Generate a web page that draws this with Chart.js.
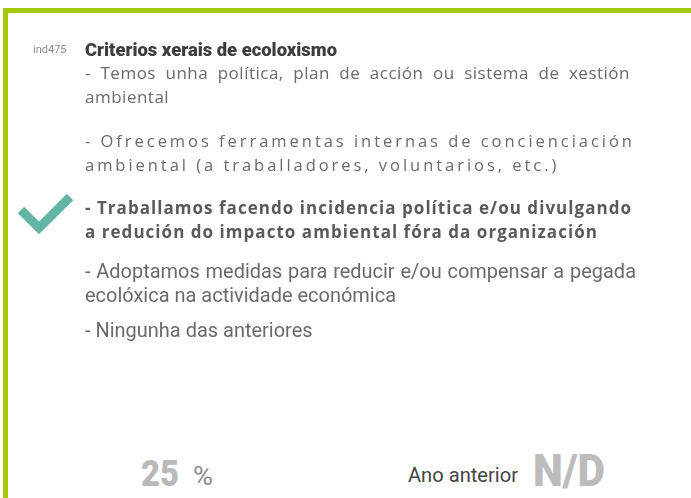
<!DOCTYPE html>
<html>
<head>
<meta charset="utf-8">
<script src="https://cdn.jsdelivr.net/npm/chart.js@4.4.1/dist/chart.umd.min.js"></script>
<style>
  html, body { margin:0; padding:0; background:#fff; }
  body { width:691px; height:498px; overflow:hidden; position:relative; font-family: "Open Sans", "Noto Sans", sans-serif; }
  #card { position:absolute; left:3px; top:8px; width:720px; height:520px; border-top:5px solid #a5c80a; border-left:5px solid #a5c80a; box-sizing:border-box; }
  .t { position:absolute; white-space:pre; line-height:24px; transform-origin:0 50%; }
  #chk { position:absolute; left:0px; top:59px; }
</style>
</head>
<body>
<div id="card"></div>
<canvas id="chk" width="90" height="308"></canvas>
<div id="texts"></div>
<script>
// ---- data ----
const indicatorCode = "ind475";
const title = "Criterios xerais de ecoloxismo";
const options = [
  ["- Temos unha política, plan de acción ou sistema de xestión", "ambiental"],
  ["- Ofrecemos ferramentas internas de concienciación", "ambiental (a traballadores, voluntarios, etc.)"],
  ["- Traballamos facendo incidencia política e/ou divulgando", "a redución do impacto ambiental fóra da organización"],
  ["- Adoptamos medidas para reducir e/ou compensar a pegada", "ecolóxica na actividade económica"],
  ["- Ningunha das anteriores"]
];
const selectedIndex = 2;
const percentValue = 25;
const percentUnit = "%";
const previousLabel = "Ano anterior";
const previousValue = "N/D";

// ---- layout ----
const host = document.getElementById('texts');
function addText(txt, css) {
  const d = document.createElement('div');
  d.className = 't';
  d.textContent = txt;
  Object.assign(d.style, css);
  host.appendChild(d);
  return d;
}
const W = el => el.getBoundingClientRect().width;
function fitScale(el, target) { return target / W(el); }
function countSpaces(s) { return (s.match(/ /g) || []).length; }

addText(indicatorCode, {left:'33px', top:'38px', fontSize:'11px', color:'#8a8a8a', fontFamily:'Roboto'});
const tEl = addText(title, {left:'85px', top:'38px', fontSize:'19px', fontWeight:'900', color:'#3d3d3d', fontFamily:'Roboto'});
tEl.style.transform = 'scaleX(' + fitScale(tEl, 252) + ')';

const optTops = [61, 129, 196, 259, 318];
const optStyle = [
  {mode:'ls', ls:0.5, first:545, css:{fontSize:'17px', color:'#6a6a6a'}},
  {mode:'lsfit', first:547, css:{fontSize:'16.5px', color:'#6a6a6a'}},
  {mode:'lsfit', first:546, css:{fontSize:'17px', color:'#5a5a5a', fontWeight:'700'}},
  {mode:'sc', last:311, first:551, css:{fontSize:'20px', color:'#6a6a6a', fontFamily:'Roboto'}},
  {mode:'sc', css:{fontSize:'20px', color:'#6a6a6a', fontFamily:'Roboto'}}
];
let lastScale = 1;
options.forEach((lines, i) => {
  const st = optStyle[i];
  const els = lines.map((ln, j) => addText(ln, Object.assign({left:'85px', top:(optTops[i] + 24*j) + 'px'}, st.css)));
  const lastEl = els[els.length - 1];
  const f = els[0];
  if (st.mode === 'ls') {
    els.forEach(e => e.style.letterSpacing = st.ls + 'px');
    f.style.wordSpacing = Math.max(0, (st.first - W(f)) / countSpaces(f.textContent)) + 'px';
  } else if (st.mode === 'lsfit') {
    const ls = (st.first - W(f)) / (f.textContent.length - 1);
    els.forEach(e => e.style.letterSpacing = ls + 'px');
  } else {
    let s = lastScale;
    if (st.last) s = fitScale(lastEl, st.last);
    lastScale = s;
    if (els.length > 1) {
      f.style.wordSpacing = ((st.first / s - W(f)) / countSpaces(f.textContent)) + 'px';
    }
    els.forEach(e => e.style.transform = 'scaleX(' + s + ')');
  }
});

const v = addText(String(percentValue), {left:'141px', top:'452px', fontSize:'36px', lineHeight:'44px', fontWeight:'900', color:'#b9b9b9', fontFamily:'Roboto'});
v.style.transform = 'scaleX(' + fitScale(v, 38) + ')';
const u = addText(percentUnit, {left:'193px', top:'458px', fontSize:'26px', lineHeight:'36px', color:'#8d8d8d', fontFamily:'Roboto'});
u.style.transform = 'scaleX(' + fitScale(u, 20) + ')';
const pl = addText(previousLabel, {left:'408px', top:'460px', fontSize:'21px', lineHeight:'30px', color:'#444', fontFamily:'Roboto'});
pl.style.transform = 'scaleX(' + fitScale(pl, 110) + ')';
const pv = addText(previousValue, {left:'533px', top:'446px', fontSize:'44px', lineHeight:'50px', fontWeight:'900', color:'#bcbcbc', fontFamily:'Roboto'});
pv.style.transform = 'scaleX(' + fitScale(pv, 72) + ')';

// ---- check mark via Chart.js ----
const checkPlugin = {
  id: 'checkMark',
  afterDatasetsDraw(chart) {
    const ctx = chart.ctx;
    chart.getDatasetMeta(0).data.forEach(pt => {
      const x = pt.x, y = pt.y;
      ctx.save();
      ctx.strokeStyle = '#64b4a6';
      ctx.lineWidth = 9;
      ctx.lineCap = 'butt';
      ctx.lineJoin = 'miter';
      ctx.beginPath();
      ctx.moveTo(x - 24, y - 3);
      ctx.lineTo(x - 6, y + 15);
      ctx.lineTo(x + 25, y - 16);
      ctx.stroke();
      ctx.restore();
    });
  }
};

new Chart(document.getElementById('chk'), {
  type: 'scatter',
  data: { datasets: [{ data: [{x:0, y:selectedIndex}], pointRadius: 0, clip: false }] },
  options: {
    responsive:false, animation:false, devicePixelRatio:1,
    layout:{padding:0},
    plugins:{legend:{display:false}, tooltip:{enabled:false}},
    events: [],
    scales:{
      x:{type:'linear', min:-1, max:1, display:false},
      y:{type:'linear', min:-0.5, max:options.length - 0.5, reverse:true, display:false}
    }
  },
  plugins: [checkPlugin]
});
</script>
</body>
</html>
